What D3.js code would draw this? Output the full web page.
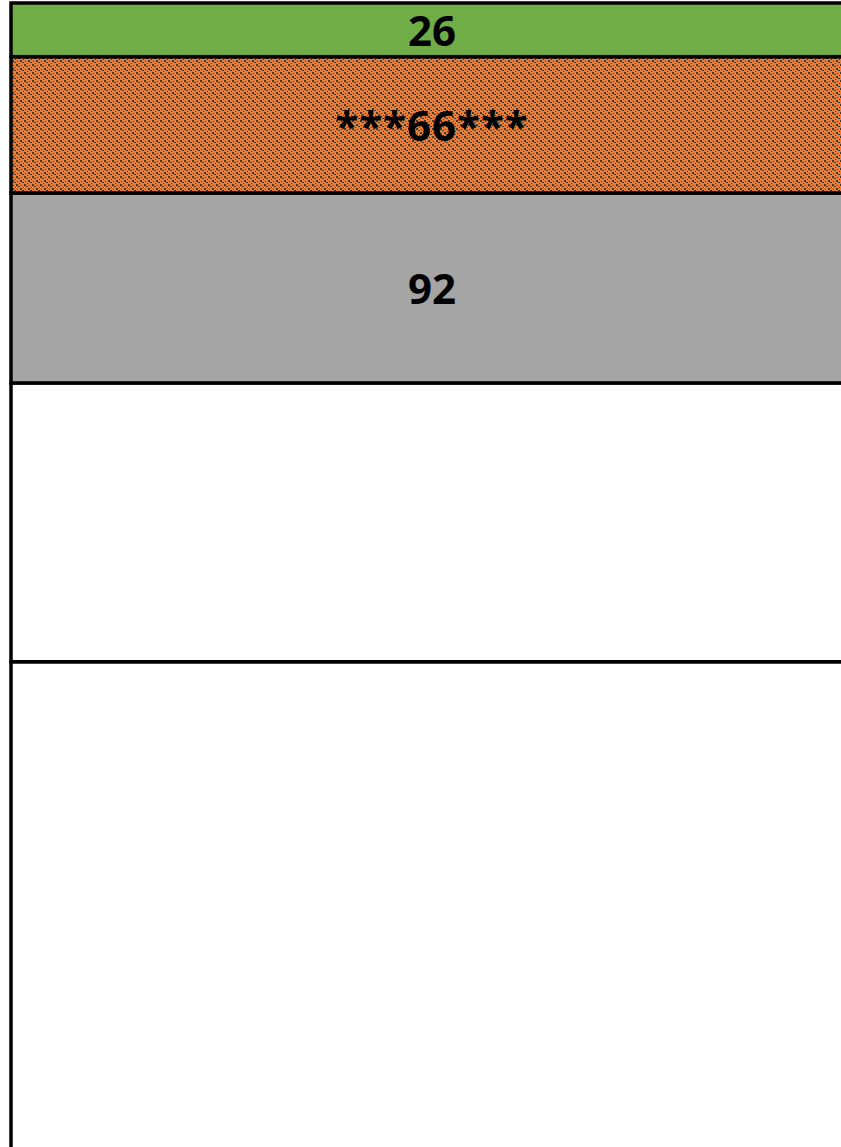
<!DOCTYPE html>
<html>
<head>
<meta charset="utf-8">
<script src="https://cdn.jsdelivr.net/npm/d3@7"></script>
<style>
  html, body { margin: 0; padding: 0; background: #fff; }
  svg { display: block; }
</style>
</head>
<body>
<div id="chart"></div>
<script>
/* DATA */
const categories = ["Total"];
// stacked from the bottom up
const segmentNames = ["Base", "Other", "Gray", "Orange", "Green"];
const segmentValues = [250, 135, 92, 66, 26];
const segmentLabels = ["", "", "92", "***66***", "26"];
const segmentFills = ["#ffffff", "#ffffff", "#a5a5a5", "url(#orangeDots)", "#70ad47"];

/* CONSTANTS */
const width = 841,
  height = 1147;

const total = d3.sum(segmentValues);

// build stacked rows
let acc = 0;
const stacked = segmentValues.map((v, i) => {
  const row = { name: segmentNames[i], y0: acc, y1: acc + v, label: segmentLabels[i], fill: segmentFills[i] };
  acc += v;
  return row;
});

const svg = d3.select("#chart")
  .append("svg")
  .attr("width", width)
  .attr("height", height);

// pattern for the orange segment
const defs = svg.append("defs");
const pat = defs.append("pattern")
  .attr("id", "orangeDots")
  .attr("patternUnits", "userSpaceOnUse")
  .attr("width", 8)
  .attr("height", 8);
pat.append("rect").attr("width", 8).attr("height", 8).attr("fill", "#ed7d31");
[[0, 0, 2, 2], [2, 2, 2, 1], [4, 4, 2, 2], [6, 6, 2, 1],
 [5, 1, 1, 1], [7, 3, 1, 1], [1, 5, 1, 1], [3, 7, 1, 1]].forEach(([x, y, w, h]) => {
  pat.append("rect").attr("x", x).attr("y", y).attr("width", w).attr("height", h).attr("fill", "#3a3a3a");
});

/* SCALES */
const xScale = d3.scaleBand()
  .domain(categories)
  .range([11, 853])
  .padding(0);

const yScale = d3.scaleLinear()
  .domain([0, total])
  .range([3 + total * 2.065, 3]);

/* BARS */
const bar = svg.append("g").attr("class", "bar");

bar.selectAll("rect")
  .data(stacked)
  .join("rect")
  .attr("x", xScale("Total"))
  .attr("width", xScale.bandwidth())
  .attr("y", d => yScale(d.y1))
  .attr("height", d => yScale(d.y0) - yScale(d.y1))
  .attr("fill", d => d.fill)
  .attr("stroke", "#000")
  .attr("stroke-width", 3.5);

bar.selectAll("text")
  .data(stacked.filter(d => d.label))
  .join("text")
  .attr("x", 432)
  .attr("y", d => (yScale(d.y0) + yScale(d.y1)) / 2)
  .attr("text-anchor", "middle")
  .attr("dominant-baseline", "central")
  .attr("font-family", "'Open Sans', sans-serif")
  .attr("font-weight", "bold")
  .attr("font-size", 42)
  .attr("letter-spacing", d => d.label.includes("*") ? 1 : 0)
  .attr("fill", "#000")
  .text(d => d.label);
</script>
</body>
</html>
